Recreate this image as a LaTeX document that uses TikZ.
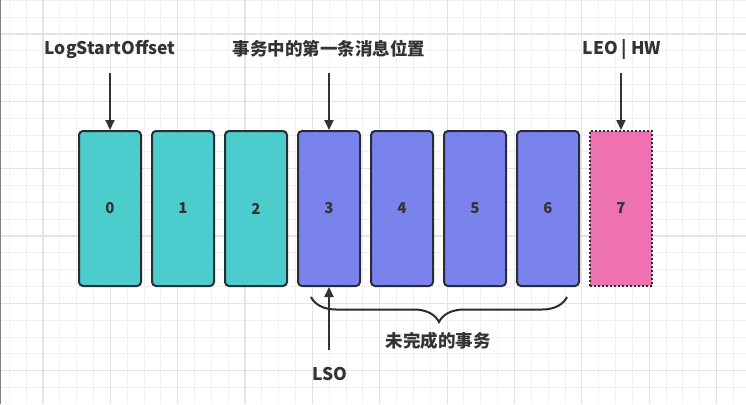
\documentclass[tikz,border=0pt]{standalone}
\usepackage{fontspec}
\setmainfont{Noto Sans CJK SC}
\usepackage{tikz}
\usetikzlibrary{arrows.meta, positioning, calc, decorations.pathreplacing}
\definecolor{gridminor}{RGB}{240, 240, 240}
\definecolor{gridmajor}{RGB}{228, 228, 228}
\definecolor{msgteal}{RGB}{76, 204, 204}
\definecolor{msgpurple}{RGB}{122, 131, 235}
\definecolor{msgpink}{RGB}{238, 114, 178}
\definecolor{inkdark}{RGB}{40, 44, 52}
\definecolor{textdark}{RGB}{51, 51, 51}

\begin{document}
\begin{tikzpicture}[x=1pt, y=-1pt,
    msgbox/.style={draw=inkdark, line width=2pt, rounded corners=4pt,
        minimum width=62pt, minimum height=155pt, inner sep=0pt,
        text=textdark, font=\fontsize{15}{17}\selectfont\bfseries},
    tag/.style={text=textdark, inner sep=0pt,
        font=\fontsize{17.5}{20}\selectfont\bfseries},
    ptr/.style={draw=textdark, line width=2pt,
        -{Triangle[length=10pt, width=9pt]}}]

% Canvas and grid
\useasboundingbox (0,0) rectangle (746,404);
\fill[white] (0,0) rectangle (746,404);
\foreach \k in {0,...,44}
    \draw[gridminor, line width=1pt] (9.3+16.84*\k,0) -- (9.3+16.84*\k,404);
\foreach \k in {0,...,23}
    \draw[gridminor, line width=1pt] (0,0.3+16.84*\k) -- (746,0.3+16.84*\k);
\foreach \k in {2,6,...,42}
    \draw[gridmajor, line width=1.2pt] (9.3+16.84*\k,0) -- (9.3+16.84*\k,404);
\foreach \k in {2,6,...,22}
    \draw[gridmajor, line width=1.2pt] (0,0.3+16.84*\k) -- (746,0.3+16.84*\k);
\draw[gray, line width=1pt] (0.5,0) -- (0.5,404);

% Messages
\node[msgbox, fill=msgteal] (m0) at (110,208.5) {0};
\node[msgbox, fill=msgteal] (m1) at (183,208.5) {1};
\node[msgbox, fill=msgteal] (m2) at (256,208.5) {2};
\node[msgbox, fill=msgpurple] (m3) at (329,208.5) {3};
\node[msgbox, fill=msgpurple] (m4) at (402,208.5) {4};
\node[msgbox, fill=msgpurple] (m5) at (475,208.5) {5};
\node[msgbox, fill=msgpurple] (m6) at (548,208.5) {6};
\node[msgbox, fill=msgpink, rounded corners=0pt,
    dash pattern=on 2pt off 2pt] (m7) at (621,208.5) {7};

% Top labels
\node[tag] (labStart) at (110,49) {LogStartOffset};
\node[tag] (labFirst) at (329,49) {事务中的第一条消息位置};
\node[tag] (labLeo) at (622,49) {LEO | HW};

% Top pointers
\coordinate (p0) at (110,73);
\coordinate (p3) at (329,73);
\coordinate (p7) at (621,73);
\draw[ptr] (p0) -- (m0.north);
\draw[ptr] (p3) -- (m3.north);
\draw[ptr] (p7) -- (m7.north);

% Open transaction brace
\coordinate (bl) at (311,297);
\coordinate (br) at (567,297);
\draw[inkdark, line width=2pt, decorate,
    decoration={brace, mirror, amplitude=25pt}] (bl) -- (br);
\node[tag] (labOpen) at (438,341) {未完成的事务};

% LSO pointer
\node[tag] (labLso) at (330,374) {LSO};
\coordinate (q3) at (329,350);
\draw[ptr] (q3) -- (m3.south);

\end{tikzpicture}
\end{document}
